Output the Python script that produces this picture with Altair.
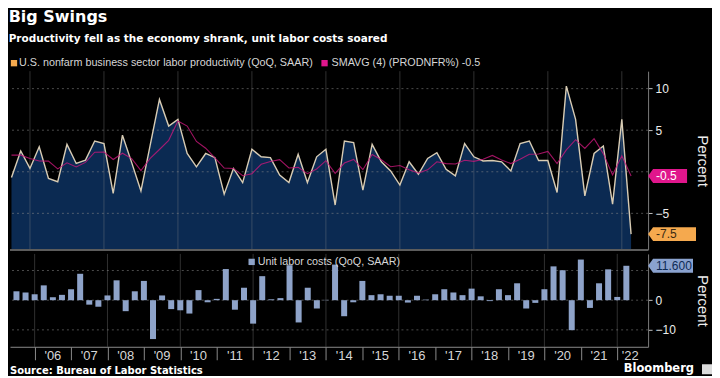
import altair as alt
import pandas as pd

# ---------------- data ----------------
quarters = (["2005Q2", "2005Q3", "2005Q4"]
            + [f"{y}Q{q}" for y in range(2006, 2022) for q in range(1, 5)]
            + ["2022Q1"])

productivity = [
    -0.7, 2.5, 0.4,
    3.0, -0.8, -1.2, 3.3,
    1.0, 1.4, 3.7, 3.4,
    -2.6, 4.4, 1.1, -2.3,
    3.2, 8.7, 5.5, 6.3,
    2.2, 0.6, 2.2, 1.7,
    -2.7, 0.4, -1.3, 2.7,
    1.8, 1.7, -0.4, -1.3,
    2.1, -1.3, 1.8, 2.7,
    -4.0, 3.7, 3.5, -2.2,
    3.3, 1.2, 0.1, -1.6,
    1.2, -0.3, 1.6, 2.3,
    0.3, -0.5, 3.4, 1.8,
    1.3, 1.35, 1.2, 0.1,
    3.4, 3.7, 1.35, 1.35,
    -2.5, 10.3, 6.3, -2.9,
    2.2, 3.1, -3.9, 6.3,
    -7.5,
]

smavg = [
    2.0, 2.0, 1.6,
    1.3, 1.28, 0.35, 1.08,
    0.58, 1.13, 2.35, 2.38,
    1.48, 2.23, 1.58, 0.15,
    1.6, 2.68, 3.78, 6.1,
    5.5, 3.65, 2.83, 1.68,
    0.45, 0.4, -0.48, -0.23,
    0.9, 1.23, 1.45, 0.45,
    0.53, -0.23, 0.33, 1.33,
    -0.2, 1.05, 1.48, 0.25,
    2.08, 1.45, 0.6, 0.75,
    0.23, -0.15, 0.23, 1.2,
    0.98, 0.93, 1.38, 1.25,
    1.5, 1.96, 1.41, 0.99,
    1.51, 2.1, 2.14, 2.45,
    0.98, 2.63, 3.86, 2.8,
    3.98, 2.18, -0.38, 1.93,
    -0.5,
]

unit_labor_costs = [
    3.0, 2.6, 2.0,
    5.0, 1.0, 1.8, 3.7,
    8.9, -1.5, -2.2, 1.6,
    6.7, -3.7, 3.0, 6.5,
    -13.1, 1.6, -3.0, -3.4,
    -4.5, 3.4, -0.7, 0.45,
    10.5, -3.2, 4.2, -7.9,
    8.1, 0.3, 0.7, 11.8,
    -7.5, 4.2, -2.8, 0.1,
    12.0, -5.4, -0.7, 6.5,
    1.7, 2.0, 1.5, 1.5,
    -0.8, 1.5, 0.2, 2.0,
    3.7, 2.6, 1.7, 3.9,
    1.3, -0.3, 3.7, 1.7,
    5.7, -2.8, -0.9, 3.7,
    11.4, 10.1, -10.1, 13.7,
    -2.6, 5.7, 10.4, 1.1,
    11.6,
]

years = list(range(2006, 2023))
year_labels = ["'06", "'07", "'08", "'09", "'10", "'11", "'12", "'13", "'14",
               "'15", "'16", "'17", "'18", "'19", "'20", "'21", "'22"]
grid_years = [2006, 2008, 2010, 2012, 2014, 2016, 2018, 2020, 2022]
top_grid = [-5, 0, 5, 10]
top_labels = [-5, 5, 10]          # "0" sits under the -0.5 value box
bottom_grid = [-10, 0, 10]
bottom_labels = [-10, 0]          # "10" sits under the 11.600 value box

title_text = "Big Swings"
subtitle_text = "Productivity fell as the economy shrank, unit labor costs soared"
legend_prod = "U.S. nonfarm business sector labor productivity (QoQ, SAAR)"
legend_sma = "SMAVG (4) (PRODNFR%) -0.5"
legend_ulc = "Unit labor costs (QoQ, SAAR)"
source_text = "Source: Bureau of Labor Statistics"

assert len(quarters) == len(productivity) == len(smavg) == len(unit_labor_costs)

# ---------------- layout / style ----------------
W = 639
H1 = 179
H2 = 93
XMIN, XMAX = 2005.46, 2022.71
Y1MIN, Y1MAX = -9.4, 12.1
Y2MIN, Y2MAX = -15.7, 15.6

BG = "#000000"
NAVY = "#0b2a52"
TAN = "#d8ccb4"
ORANGE = "#f5a94e"
MAGENTA = "#e0168c"
BAR = "#8ea3c9"
GRID = "#8a8a8a"
TXT = "#d6d6d6"
LBL_FONT = "Liberation Sans"
HEAD_FONT = "DejaVu Sans"

df = pd.DataFrame({"q": quarters, "prod": productivity, "sma": smavg,
                   "ulc": unit_labor_costs})
df["t"] = [int(s[:4]) + int(s[-1]) / 4 for s in quarters]

xscale = alt.Scale(domain=[XMIN, XMAX], nice=False, zero=False)
y1scale = alt.Scale(domain=[Y1MIN, Y1MAX], nice=False, zero=False)
y2scale = alt.Scale(domain=[Y2MIN, Y2MAX], nice=False, zero=False)

x_top_axis = alt.Axis(values=years, labels=False, ticks=False, domain=False,
                      grid=False, title=None)
x_bot_axis = alt.Axis(values=years, labels=False, ticks=True, tickSize=13,
                      tickColor="#8a8a8a", domain=True, domainColor="#8a8a8a",
                      grid=False, title=None)


def y_axis(values, pad):
    return alt.Axis(orient="right", values=values, grid=False, tickSize=4,
                    tickColor="#bdbdbd", labelColor="#ececec", labelFontSize=12,
                    labelFont=LBL_FONT, labelPadding=3, domain=True,
                    domainColor="#7a7a7a", title="Percent", titleColor="#eeeeee",
                    titleFont=LBL_FONT, titleFontSize=15, titleFontWeight="normal",
                    titlePadding=pad)


y_top_axis = y_axis(top_labels, 26)
y_bot_axis = y_axis(bottom_labels, 19)


def XT(field):
    return alt.X(field, type="quantitative", scale=xscale, axis=x_top_axis)


def XB(field):
    return alt.X(field, type="quantitative", scale=xscale, axis=x_bot_axis)


def YT(field):
    return alt.Y(field, type="quantitative", scale=y1scale, axis=y_top_axis)


def YB(field):
    return alt.Y(field, type="quantitative", scale=y2scale, axis=y_bot_axis)


one = pd.DataFrame({"k": [0]})


def label(text, x, y, size, color=TXT, font=LBL_FONT, weight="normal", align="left"):
    return alt.Chart(pd.DataFrame({"s": [text]})).mark_text(
        align=align, baseline="middle", font=font, fontSize=size,
        fontWeight=weight, color=color).encode(
        text="s:N", x=alt.value(x), y=alt.value(y))


def swatch(x, y, color, size=40):
    return alt.Chart(one).mark_point(shape="square", filled=True, size=size,
                                     color=color, opacity=1).encode(
        x=alt.value(x), y=alt.value(y))


def value_box(val, text, fill, tcolor, width, YF):
    d = pd.DataFrame({"v": [val], "lab": [text]})
    path = f"M0,0 L5,-7 L{width},-7 L{width},7 L5,7 Z"
    box = alt.Chart(d).mark_point(shape=path, size=4, filled=True, color=fill,
                                  opacity=1, strokeWidth=0).encode(
        x=alt.value(W), y=YF("v"))
    txt = alt.Chart(d).mark_text(align="left", baseline="middle", font=LBL_FONT,
                                 fontSize=12, color=tcolor).encode(
        x=alt.value(W + 8), y=YF("v"), text="lab:N")
    return [box, txt]


# ---------------- top panel ----------------
area = alt.Chart(df).mark_area(color=NAVY, opacity=1).encode(
    x=XT("t"), y=YT("prod"), y2=alt.datum(Y1MIN))

hgrid_top = alt.Chart(pd.DataFrame({"v": top_grid})).mark_rule(
    color=GRID, strokeDash=[2, 3], opacity=0.55, strokeWidth=1).encode(y=YT("v"))
vgrid_top = alt.Chart(pd.DataFrame({"t": grid_years})).mark_rule(
    color=GRID, opacity=0.35, strokeWidth=1).encode(x=XT("t"))

prod_line = alt.Chart(df).mark_line(color=TAN, strokeWidth=1.4).encode(
    x=XT("t"), y=YT("prod"))
sma_line = alt.Chart(df).mark_line(color="#c8187a", strokeWidth=1.1,
                                   opacity=0.8).encode(x=XT("t"), y=YT("sma"))

sep = alt.Chart(one).mark_rule(color="#5c5c5c", strokeWidth=2).encode(
    y=alt.value(H1), x=alt.value(0), x2=alt.value(W))

top_layers = [area, vgrid_top, hgrid_top, prod_line, sma_line, sep,
              swatch(4, -8, ORANGE), label(legend_prod, 9, -8, 10.8),
              swatch(315, -8, MAGENTA), label(legend_sma, 322, -8, 10.8)]
top_layers += value_box(smavg[-1], f"{smavg[-1]:.1f}", MAGENTA, "#ffffff", 39, YT)
top_layers += value_box(productivity[-1], f"{productivity[-1]:.1f}", ORANGE,
                        "#3a2a12", 48, YT)

top = alt.layer(*top_layers).properties(width=W, height=H1)

# ---------------- bottom panel ----------------
hgrid_bot = alt.Chart(pd.DataFrame({"v": bottom_grid})).mark_rule(
    color=GRID, strokeDash=[2, 3], opacity=0.55, strokeWidth=1).encode(y=YB("v"))
vgrid_bot = alt.Chart(pd.DataFrame({"t": grid_years})).mark_rule(
    color=GRID, opacity=0.35, strokeWidth=1).encode(x=XB("t"))

bars = alt.Chart(df).mark_bar(size=6, color=BAR, opacity=1).encode(
    x=XB("t"), y=YB("ulc"), y2=alt.datum(0))

label_pos = [y + 0.5 for y in years[:-1]] + [(years[-1] + XMAX) / 2]
year_df = pd.DataFrame({"t": label_pos, "lab": year_labels})
year_text = alt.Chart(year_df).mark_text(
    align="center", baseline="middle", font=LBL_FONT, fontSize=13,
    color=TXT).encode(x=XB("t"), y=alt.value(H2 + 9), text="lab:N")

bottom_layers = [vgrid_bot, hgrid_bot, bars, year_text,
                 swatch(242, 8, BAR), label(legend_ulc, 248, 8, 10.8),
                 label(source_text, 0, 117, 10, color="#ffffff", font=HEAD_FONT,
                       weight="bold"),
                 label("Bloomberg", 685, 115.5, 11.5, color="#ffffff",
                       font=HEAD_FONT, weight="bold", align="right"),
                 swatch(698, 115.5, "#dcdcdc", size=100)]
bottom_layers += value_box(unit_labor_costs[-1], f"{unit_labor_costs[-1]:.3f}",
                           "#8aa2cf", "#0d2a55", 45, YB)

bottom = alt.layer(*bottom_layers).properties(width=W, height=H2)

chart = alt.vconcat(top, bottom, spacing=2).properties(
    title=alt.TitleParams(
        text=title_text, subtitle=subtitle_text, anchor="start",
        font=HEAD_FONT, fontSize=16, fontWeight="bold", color="#ffffff",
        subtitleFont=HEAD_FONT, subtitleFontSize=10.5,
        subtitleFontWeight="bold", subtitleColor="#ffffff",
        subtitlePadding=9, offset=13),
).configure(background=BG, padding=0).configure_view(strokeWidth=0)

chart.save("out.html", embed_options={"renderer": "svg", "actions": False})
